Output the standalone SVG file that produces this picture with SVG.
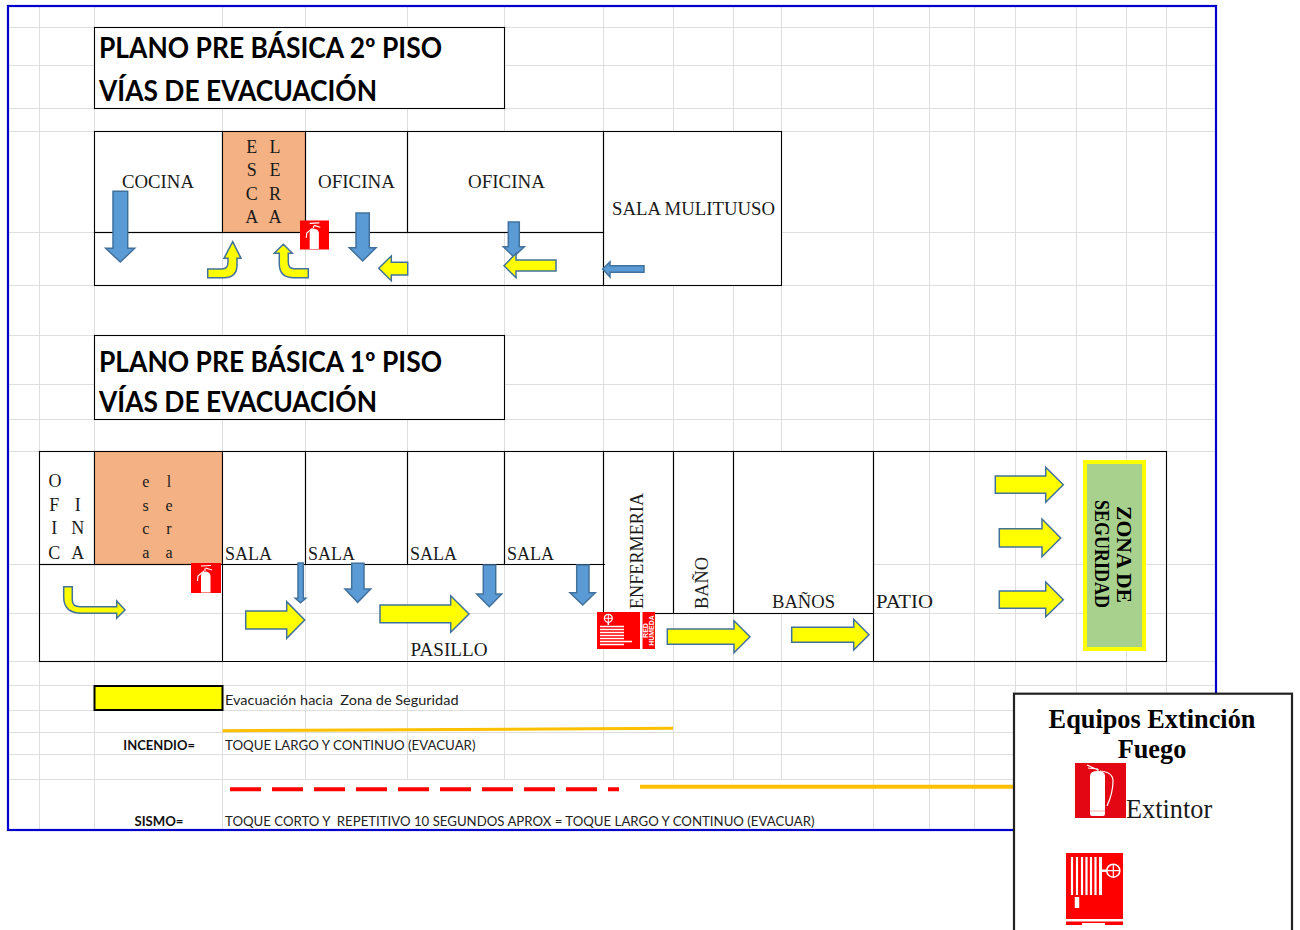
<svg xmlns="http://www.w3.org/2000/svg" width="1300" height="930" viewBox="0 0 1300 930">
<style>
.grid line{stroke:#dedede;stroke-width:1}
.wall{stroke:#000;stroke-width:1.100;fill:none}
.t{font-family:"Liberation Serif","Times New Roman",serif;font-size:18px;fill:#1a1a1a}
.c{text-anchor:middle}
.h{font-family:Lato,"Noto Sans",sans-serif;font-weight:700;font-size:28px;fill:#000}
.s{font-family:Lato,"Noto Sans",sans-serif;font-size:14px;fill:#222;white-space:pre}
.sb{font-family:Lato,"Noto Sans",sans-serif;font-size:14px;font-weight:700;fill:#111}
.y{fill:#ff0;stroke:#41719c;stroke-width:1.500;stroke-linejoin:miter}
.b{fill:#5b9bd5;stroke:#41719c;stroke-width:1.500;stroke-linejoin:miter}
.w{fill:#fff;stroke:none}
.wl{fill:none;stroke:#fff}
.l{font-family:"Liberation Serif","Times New Roman",serif;font-weight:700;font-size:26.300px;fill:#000;text-anchor:middle}
.hm{font-family:"Liberation Sans",Arial,sans-serif;font-size:7px;font-weight:700;fill:#fff;text-anchor:middle}
.z{font-family:"Liberation Serif","Times New Roman",serif;font-weight:700;font-size:21px;fill:#000}
</style>
<defs>
<symbol id="ext" viewBox="0 0 30 30">
<rect width="30" height="30" fill="#f00"/>
<path class="w" d="M10 13Q10 9 14.500 8.500Q19.500 9 19.500 13V29.500H10Z"/>
<path class="wl" stroke-width="1.200" d="M13 8L7 13L6.500 18M14 8V5.500M10 3L20 2.500M14.500 5L21 7"/>
</symbol>
<symbol id="hose" viewBox="0 0 58 37">
<rect width="58" height="37" fill="#f00"/>
<rect x="43" width="2.500" height="37" fill="#fff"/>
<circle cx="11.300" cy="6.300" r="4" fill="none" stroke="#fff" stroke-width="1.200"/>
<path class="wl" stroke-width="1" d="M7.300 6.300H15.300M11.300 2.300V10.300"/>
<path class="wl" stroke-width="1.600" d="M11.300 10V13M3 14.500H27M3 17.500H27M3 20.500H27M3 23.500H27M3 26.500H27M3 29.500H35M3 32.500H27"/>
<text class="hm" transform="translate(50.700,18.500) rotate(-90)">RED</text>
<text class="hm" transform="translate(57.300,18.500) rotate(-90)">HUMEDA</text>
</symbol>
</defs>
<rect width="1300" height="930" fill="#fff"/>
<g id="grid" class="grid">
<line x1="39.500" y1="6" x2="39.500" y2="830"/>
<line x1="94.500" y1="6" x2="94.500" y2="830"/>
<line x1="222.500" y1="6" x2="222.500" y2="830"/>
<line x1="305.500" y1="6" x2="305.500" y2="779"/>
<line x1="407.500" y1="6" x2="407.500" y2="779"/>
<line x1="504.500" y1="6" x2="504.500" y2="779"/>
<line x1="603.500" y1="6" x2="603.500" y2="779"/>
<line x1="673.500" y1="6" x2="673.500" y2="779"/>
<line x1="733.500" y1="6" x2="733.500" y2="779"/>
<line x1="781.500" y1="6" x2="781.500" y2="779"/>
<line x1="873.500" y1="6" x2="873.500" y2="830"/>
<line x1="929.500" y1="6" x2="929.500" y2="830"/>
<line x1="974.500" y1="6" x2="974.500" y2="830"/>
<line x1="1015.500" y1="6" x2="1015.500" y2="830"/>
<line x1="1076.500" y1="6" x2="1076.500" y2="830"/>
<line x1="1126.500" y1="6" x2="1126.500" y2="830"/>
<line x1="1166.500" y1="6" x2="1166.500" y2="830"/>
<line x1="8" y1="27.500" x2="1216" y2="27.500"/>
<line x1="8" y1="65.500" x2="1216" y2="65.500"/>
<line x1="8" y1="108.500" x2="1216" y2="108.500"/>
<line x1="8" y1="131.500" x2="1216" y2="131.500"/>
<line x1="8" y1="232.500" x2="1216" y2="232.500"/>
<line x1="8" y1="285.500" x2="1216" y2="285.500"/>
<line x1="8" y1="335.500" x2="1216" y2="335.500"/>
<line x1="8" y1="384.500" x2="1216" y2="384.500"/>
<line x1="8" y1="419.500" x2="1216" y2="419.500"/>
<line x1="8" y1="451.500" x2="1216" y2="451.500"/>
<line x1="8" y1="564.500" x2="1216" y2="564.500"/>
<line x1="8" y1="613.500" x2="1216" y2="613.500"/>
<line x1="8" y1="661.500" x2="1216" y2="661.500"/>
<line x1="8" y1="685.500" x2="1216" y2="685.500"/>
<line x1="8" y1="710.500" x2="1216" y2="710.500"/>
<line x1="8" y1="732.500" x2="1216" y2="732.500"/>
<line x1="8" y1="754.500" x2="1216" y2="754.500"/>
<line x1="8" y1="779.500" x2="1216" y2="779.500"/>
</g>
<rect id="frame" x="8" y="6" width="1208" height="824" fill="none" stroke="#0000cd" stroke-width="2.200"/>

<g id="title-2">
<rect x="94.500" y="27.500" width="410" height="81" fill="#fff" stroke="#000" stroke-width="1.100"/>
<text class="h" x="99" y="58" textLength="343" lengthAdjust="spacingAndGlyphs">PLANO PRE BÁSICA 2º PISO</text>
<text class="h" x="99" y="101" textLength="278" lengthAdjust="spacingAndGlyphs">VÍAS DE EVACUACIÓN</text>
</g>
<g id="title-1">
<rect x="94.500" y="335.500" width="410" height="84" fill="#fff" stroke="#000" stroke-width="1.100"/>
<text class="h" x="99" y="372" textLength="343" lengthAdjust="spacingAndGlyphs">PLANO PRE BÁSICA 1º PISO</text>
<text class="h" x="99" y="412" textLength="278" lengthAdjust="spacingAndGlyphs">VÍAS DE EVACUACIÓN</text>
</g>

<g id="floor-2">
<rect x="94.500" y="131.500" width="687" height="101" fill="#fff"/>
<rect x="603.500" y="131.500" width="178" height="154" fill="#fff"/>
<g id="cocina"><rect class="wall" x="94.500" y="131.500" width="128" height="101"/><text class="t" x="122" y="188" textLength="72" lengthAdjust="spacingAndGlyphs">COCINA</text></g>
<g id="escalera-2">
<rect x="222.500" y="131.500" width="83" height="101" fill="#f4b183" stroke="#000" stroke-width="1.100"/>
<text class="t c" x="251.700" y="153">E</text><text class="t c" x="275" y="153">L</text>
<text class="t c" x="251.700" y="176">S</text><text class="t c" x="275" y="176">E</text>
<text class="t c" x="251.700" y="200">C</text><text class="t c" x="275" y="200">R</text>
<text class="t c" x="251.700" y="223">A</text><text class="t c" x="275" y="223">A</text>
</g>
<g id="oficina-1"><rect class="wall" x="305.500" y="131.500" width="102" height="101"/><text class="t" x="318" y="188" textLength="77" lengthAdjust="spacingAndGlyphs">OFICINA</text></g>
<g id="oficina-2"><rect class="wall" x="407.500" y="131.500" width="196" height="101"/><text class="t" x="468" y="188" textLength="77" lengthAdjust="spacingAndGlyphs">OFICINA</text></g>
<g id="sala-multiuso"><rect class="wall" x="603.500" y="131.500" width="178" height="154"/><text class="t" x="612" y="215" textLength="163" lengthAdjust="spacingAndGlyphs">SALA MULITUUSO</text></g>
<g id="pasillo-2"><rect class="wall" x="94.500" y="232.500" width="509" height="53"/></g>
<g id="extintor-2"><use href="#ext" x="300" y="220" width="29" height="30"/></g>
</g>

<g id="floor-1">
<g id="oficina-p1">
<rect x="39.500" y="451.500" width="55" height="113" fill="#fff" stroke="#000" stroke-width="1.100"/>
<text class="t c" x="55" y="487">O</text>
<text class="t c" x="54.300" y="511">F</text><text class="t c" x="77.700" y="511">I</text>
<text class="t c" x="54.300" y="534">I</text><text class="t c" x="77.700" y="534">N</text>
<text class="t c" x="54.300" y="559">C</text><text class="t c" x="77.700" y="559">A</text>
</g>
<g id="escalera-1">
<rect x="94.500" y="451.500" width="128" height="113" fill="#f4b183" stroke="#000" stroke-width="1.100"/>
<text class="t c" style="font-size:16px" x="145.700" y="487">e</text><text class="t c" style="font-size:16px" x="169" y="487">l</text>
<text class="t c" style="font-size:16px" x="145.700" y="511">s</text><text class="t c" style="font-size:16px" x="169" y="511">e</text>
<text class="t c" style="font-size:16px" x="145.700" y="534">c</text><text class="t c" style="font-size:16px" x="169" y="534">r</text>
<text class="t c" style="font-size:16px" x="145.700" y="558">a</text><text class="t c" style="font-size:16px" x="169" y="558">a</text>
</g>
<rect x="222.500" y="451.500" width="651" height="113" fill="#fff"/>
<rect x="603.500" y="451.500" width="270" height="162" fill="#fff"/>
<g id="sala-1"><rect class="wall" x="222.500" y="451.500" width="83" height="113"/><text class="t" x="225" y="559.500" textLength="47" lengthAdjust="spacingAndGlyphs">SALA</text></g>
<g id="sala-2"><rect class="wall" x="305.500" y="451.500" width="102" height="113"/><text class="t" x="308" y="559.500" textLength="47" lengthAdjust="spacingAndGlyphs">SALA</text></g>
<g id="sala-3"><rect class="wall" x="407.500" y="451.500" width="97" height="113"/><text class="t" x="410" y="559.500" textLength="47" lengthAdjust="spacingAndGlyphs">SALA</text></g>
<g id="sala-4"><rect class="wall" x="504.500" y="451.500" width="99" height="113"/><text class="t" x="507" y="559.500" textLength="47" lengthAdjust="spacingAndGlyphs">SALA</text></g>
<g id="enfermeria"><rect class="wall" x="603.500" y="451.500" width="70" height="162"/><text class="t" transform="translate(642.700,609) rotate(-90)" textLength="116" lengthAdjust="spacingAndGlyphs">ENFERMERIA</text></g>
<g id="bano"><rect class="wall" x="673.500" y="451.500" width="60" height="162"/><text class="t" transform="translate(707.700,609) rotate(-90)" textLength="52" lengthAdjust="spacingAndGlyphs">BAÑO</text></g>
<g id="banos"><rect class="wall" x="733.500" y="451.500" width="140" height="162"/><text class="t" x="772" y="608" textLength="63" lengthAdjust="spacingAndGlyphs">BAÑOS</text></g>
<g id="patio"><rect class="wall" x="873.500" y="451.500" width="293" height="210"/><text class="t" x="876" y="608" textLength="57" lengthAdjust="spacingAndGlyphs">PATIO</text></g>
<g id="pasillo-1a"><rect class="wall" x="39.500" y="564.500" width="183" height="97"/></g>
<g id="pasillo-1b"><path class="wall" d="M222.500 564.500H605M222.500 661.500H873.500"/><text class="t" x="410.500" y="656" textLength="77" lengthAdjust="spacingAndGlyphs">PASILLO</text></g>
<g id="zona-seguridad">
<rect x="1085" y="462" width="59" height="187" fill="#a9d18e" stroke="#ff0" stroke-width="4"/>
<text class="z" transform="translate(1117,506) rotate(90)" textLength="97" lengthAdjust="spacingAndGlyphs">ZONA DE</text>
<text class="z" transform="translate(1095,500) rotate(90)" textLength="108" lengthAdjust="spacingAndGlyphs">SEGURIDAD</text>
</g>
<g id="extintor-1"><use href="#ext" x="191" y="563" width="30" height="30"/></g>
<g id="red-humeda"><use href="#hose" x="597" y="612" width="58" height="37"/></g>
</g>

<g id="connectors">
<polygon class="b" points="113,191.300 127.700,191.300 127.700,248.300 134.700,248.300 120.300,262 105.700,248.300 113,248.300"/>
<path class="y" d="M207.700 269H222Q228 269 228 262V258.300H224L232.700 241.700L241 258.300H237V265Q237 277.700 224 277.700H207.700Z"/>
<path class="y" d="M308.300 268.700H294Q288.300 268.700 288.300 262V253.300H292.300L283.300 244.300L274.300 253.300H279.300V264Q279.300 277.700 294 277.700H308.300Z"/>
<polygon class="b" points="356,213 369.300,213 369.300,247.700 376,247.700 362.700,261 349.300,247.700 356,247.700"/>
<polygon class="y" points="378.700,268.300 391.300,256 391.300,262.300 407.700,262.300 407.700,275 391.300,275 391.300,280.700"/>
<polygon class="b" points="508.300,222 519.300,222 519.300,246.700 524.300,246.700 513.800,256.700 503.300,246.700 508.300,246.700"/>
<polygon class="y" points="504,265.700 516,253.300 516,260 556,260 556,271 516,271 516,277.700"/>
<polygon class="b" points="602.700,269 610,261.700 610,265.700 644,265.700 644,272.300 610,272.300 610,277"/>
<path class="y" d="M63.700 586.700H72.300V600Q72.300 606.700 80 606.700H116.700V601L125 610L116.700 618.300V613.300H82Q63.700 613.300 63.700 597Z"/>
<polygon class="y" points="245.700,611 286.700,611 286.700,601.700 304.700,620 286.700,638.300 286.700,629 245.700,629"/>
<polygon class="b" points="298,563 303.300,563 303.300,598.300 305.700,598.300 300.500,602.700 295.300,598.300 298,598.300"/>
<polygon class="b" points="351.700,563.300 364,563.300 364,589 370.700,589 357.700,602.300 345,589 351.700,589"/>
<polygon class="y" points="380,605 450.700,605 450.700,595.700 469,614 450.700,632.300 450.700,622.700 380,622.700"/>
<polygon class="b" points="483.300,565 495.700,565 495.700,594 501.700,594 489.300,606.700 476.700,594 483.300,594"/>
<polygon class="b" points="576.700,565 589,565 589,592.700 595.300,592.700 582.700,605 570,592.700 576.700,592.700"/>
<polygon class="y" points="667.300,629 734,629 734,620.700 750,636.700 734,652.700 734,644.300 667.300,644.300"/>
<polygon class="y" points="791.700,627.300 853.700,627.300 853.700,619.300 869,634.700 853.700,650 853.700,642.300 791.700,642.300"/>
<polygon class="y" points="995.300,476 1045.700,476 1045.700,467.300 1063.300,484.700 1045.700,502.300 1045.700,493.300 995.300,493.300"/>
<polygon class="y" points="999.300,528.700 1042,528.700 1042,519 1060.700,538 1042,556.700 1042,547 999.300,547"/>
<polygon class="y" points="999.300,591 1045.700,591 1045.700,582 1063.300,599.700 1045.700,616.700 1045.700,608.300 999.300,608.300"/>
</g>

<g id="legend-lines">
<rect x="94.500" y="686" width="128" height="24" fill="#ff0" stroke="#000" stroke-width="2"/>
<text class="s" x="225" y="705" textLength="233.500" lengthAdjust="spacingAndGlyphs">Evacuación hacia  Zona de Seguridad</text>
<path d="M222.500 730.700L673 728.300" stroke="#ffc000" stroke-width="3" fill="none"/>
<text class="sb" x="123.300" y="750" textLength="71.700" lengthAdjust="spacingAndGlyphs">INCENDIO=</text>
<text class="s" x="225" y="750" textLength="250.500" lengthAdjust="spacingAndGlyphs">TOQUE LARGO Y CONTINUO (EVACUAR)</text>
<path d="M230 789.300H619" stroke="#f00" stroke-width="4" stroke-dasharray="31 11" fill="none"/>
<path d="M640 786.800H1016" stroke="#ffc000" stroke-width="4" fill="none"/>
<text class="sb" x="134.500" y="826" textLength="49" lengthAdjust="spacingAndGlyphs">SISMO=</text>
<text class="s" x="225" y="826" textLength="589.500" lengthAdjust="spacingAndGlyphs">TOQUE CORTO Y  REPETITIVO 10 SEGUNDOS APROX = TOQUE LARGO Y CONTINUO (EVACUAR)</text>
</g>

<g id="equipos">
<rect x="1014" y="693.700" width="278" height="250" fill="#fff" stroke="#222" stroke-width="2.200"/>
<text class="l" x="1152" y="728">Equipos Extinción</text>
<text class="l" x="1152" y="758">Fuego</text>
<g id="icon-extintor">
<rect x="1075" y="763" width="51" height="55" fill="#e30613"/>
<path class="w" d="M1090 776Q1090 771 1098 771Q1105 771 1105 776V814Q1105 816 1103 816H1092Q1090 816 1090 814Z"/>
<path class="wl" stroke-width="1.200" d="M1098 771V769M1098 770L1087 765M1098 769L1088 768M1100 771Q1113 772 1113 781Q1113 793 1107 806"/>
<path d="M1090 811H1105" stroke="#f4b0b0" stroke-width="1"/>
</g>
<text x="1126" y="818" font-family="Liberation Serif,Times New Roman,serif" font-size="26.300" fill="#1a1a1a">Extintor</text>
<g id="icon-hose">
<rect x="1066" y="853" width="57" height="72" fill="#f00"/>
<rect x="1066" y="919" width="57" height="2.500" fill="#fff"/>
<path d="M1082 923H1105V925H1082Z" fill="#fff"/>
<path class="wl" stroke-width="2.200" d="M1072 857V895M1077 857V895M1082 857V895M1086.500 857V895M1091 857V895M1095.500 857V895"/>
<path class="wl" stroke-width="3" d="M1100.500 857V895"/>
<path class="wl" stroke-width="2.500" d="M1101 870.700H1107"/>
<circle cx="1113.300" cy="870.700" r="6.500" fill="none" stroke="#fff" stroke-width="1.600"/>
<path class="wl" stroke-width="1.200" d="M1107 870.700H1119.600M1113.300 864.400V877"/>
<path class="wl" stroke-width="4.500" d="M1077 897V908"/>
</g>
</g>
</svg>
